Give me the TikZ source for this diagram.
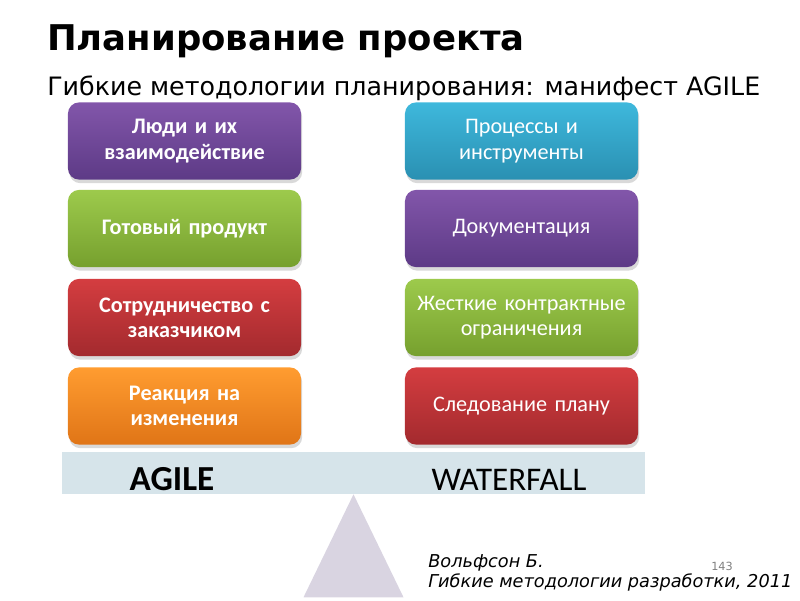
\documentclass[tikz,border=0pt]{standalone}
\usepackage{fontspec}
\setmainfont{DejaVu Sans}
\newfontfamily\cardfont{Carlito}
\usetikzlibrary{shadows}
\definecolor{violettop}{HTML}{8256AA}
\definecolor{violetbottom}{HTML}{5D3A86}
\definecolor{greentop}{HTML}{9DCA4C}
\definecolor{greenbottom}{HTML}{76A02E}
\definecolor{redtop}{HTML}{D43D40}
\definecolor{redbottom}{HTML}{A32A2E}
\definecolor{orangetop}{HTML}{FF9C30}
\definecolor{orangebottom}{HTML}{E07517}
\definecolor{tealtop}{HTML}{3EB8DC}
\definecolor{tealbottom}{HTML}{2A90B2}
\definecolor{beamfill}{HTML}{D6E4EA}
\definecolor{fulcrumfill}{HTML}{D9D4E1}

\begin{document}
\begin{tikzpicture}[x=0.025cm, y=-0.025cm,
    every node/.style={inner sep=0pt},
    card/.style={rounded corners=0.28cm,
            minimum width=5.825cm,
            minimum height=1.93cm,
            text width=5.7cm,
            align=center,
            text=white,
            font=\cardfont\fontsize{15.8}{18}\selectfont,
            drop shadow={shadow xshift=0.03cm, shadow yshift=-0.09cm, opacity=0.3}},
    agilecard/.style={card, font=\cardfont\bfseries\fontsize{15.8}{18}\selectfont},
    violet/.style={top color=violettop, bottom color=violetbottom},
    leaf/.style={top color=greentop, bottom color=greenbottom},
    crimson/.style={top color=redtop, bottom color=redbottom},
    amber/.style={top color=orangetop, bottom color=orangebottom},
    azure/.style={top color=tealtop, bottom color=tealbottom}]
    \useasboundingbox (0,0) rectangle (800,600);
    \node[anchor=base west, font=\bfseries\fontsize{25.2}{30}\selectfont] (title) at (47,50) {Планирование проекта};
    \node[anchor=base west, font=\fontsize{18}{22}\selectfont] (subtitle) at (47,95) {Гибкие методологии планирования: манифест AGILE};
    \node[agilecard, violet] (people) at (184.5,141) {Люди и их\\взаимодействие};
    \node[agilecard, leaf] (product) at (184.5,228.5) {Готовый продукт};
    \node[agilecard, crimson] (customer) at (184.5,317.5) {Сотрудничество с\\заказчиком};
    \node[agilecard, amber] (change) at (184.5,406) {Реакция на\\изменения};
    \node[card, azure] (process) at (521.5,141) {Процессы и\\инструменты};
    \node[card, violet] (docs) at (521.5,228.5) {Документация};
    \node[card, leaf] (contract) at (521.5,317.5) {Жесткие контрактные\\ограничения};
    \node[card, crimson] (plan) at (521.5,406) {Следование плану};
    \node[fill=beamfill, minimum width=14.575cm, minimum height=1.05cm] (beam) at (353.5,473) {};
    \node[anchor=base, font=\cardfont\bfseries\fontsize{25}{30}\selectfont] (agile) at (172,490) {AGILE};
    \node[anchor=base, font=\cardfont\fontsize{23.5}{28}\selectfont] (waterfall) at (509,490) {WATERFALL};
    \fill[fulcrumfill] (beam.south) -- ++(-50,103) -- ++(100,0) -- cycle;
    \node[anchor=base west, align=left, font=\itshape\fontsize{12.6}{14.2}\selectfont] (source) at (428,587) {Вольфсон Б.\\Гибкие методологии разработки, 2011};
    \node[anchor=base, text=gray, font=\fontsize{8}{10}\selectfont] (pageno) at (722,570) {143};
\end{tikzpicture}
\end{document}
